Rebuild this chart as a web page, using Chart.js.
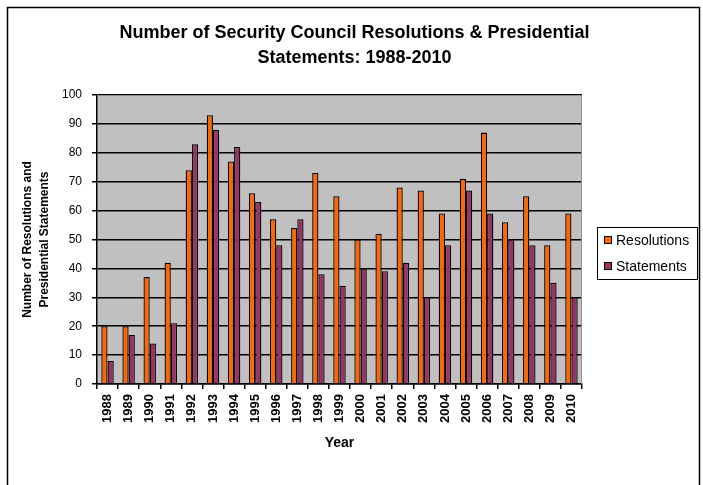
<!DOCTYPE html>
<html>
<head>
<meta charset="utf-8">
<script src="https://cdn.jsdelivr.net/npm/chart.js@4.4.0/dist/chart.umd.min.js"></script>
<style>
  html, body { margin: 0; padding: 0; background: #fff; }
  #wrap { width: 703px; height: 485px; }
</style>
</head>
<body>
<div id="wrap"><canvas id="scChart" width="703" height="485"></canvas></div>
<script>
// données
const years = ['1988', '1989', '1990', '1991', '1992', '1993', '1994', '1995', '1996', '1997', '1998', '1999',
               '2000', '2001', '2002', '2003', '2004', '2005', '2006', '2007', '2008', '2009', '2010'];
const resolutions = [20, 20, 37, 42, 74, 93, 77, 66, 57, 54, 73, 65, 50, 52, 68, 67, 59, 71, 87, 56, 65, 48, 59];
const statements = [8, 17, 14, 21, 83, 88, 82, 63, 48, 57, 38, 34, 40, 39, 42, 30, 48, 67, 59, 50, 48, 35, 30];
const titleLines = ['Number of Security Council Resolutions & Presidential', 'Statements: 1988-2010'];
const yTitleLines = ['Number of Resolutions and', 'Presidential Statements'];

Chart.defaults.font.family = '"Liberation Sans", Arial, sans-serif';
Chart.defaults.color = '#000';

// fond gris de la zone de tracé, cadre extérieur et légende encadrée
const plotBackground = {
    id: 'plotBackground',
    beforeDraw(chart) {
        const { ctx, chartArea } = chart;
        ctx.save();
        ctx.fillStyle = '#c0c0c0';
        ctx.fillRect(chartArea.left, chartArea.top, chartArea.right - chartArea.left, chartArea.bottom - chartArea.top);
        ctx.strokeStyle = '#000';
        ctx.lineWidth = 1.5;
        ctx.strokeRect(7.5, 7.5, 692, 500);
        ctx.restore();
    },
    afterDraw(chart) {
        const { ctx, chartArea } = chart;
        ctx.save();
        ctx.strokeStyle = '#909090';
        ctx.lineWidth = 1;
        ctx.beginPath();
        ctx.moveTo(chartArea.left, chartArea.top + 0.5);
        ctx.lineTo(chartArea.right - 0.5, chartArea.top + 0.5);
        ctx.lineTo(chartArea.right - 0.5, chartArea.bottom);
        ctx.stroke();

        // légende à droite
        const lx = chartArea.right + 15;
        const ly = 227;
        ctx.strokeStyle = '#000';
        ctx.lineWidth = 1;
        ctx.strokeRect(lx + 0.5, ly + 0.5, 100, 52);
        ctx.font = '14px "Liberation Sans", Arial, sans-serif';
        ctx.textBaseline = 'middle';
        ctx.textAlign = 'left';
        chart.data.datasets.forEach((ds, i) => {
            const cy = ly + 13 + i * 26;
            ctx.fillStyle = ds.backgroundColor;
            ctx.fillRect(lx + 7, cy - 4, 8, 8);
            ctx.strokeStyle = '#000';
            ctx.strokeRect(lx + 7.5, cy - 3.5, 7, 7);
            ctx.fillStyle = '#000';
            ctx.fillText(ds.label, lx + 19, cy + 1);
        });
        ctx.restore();
    }
};

new Chart(document.getElementById('scChart'), {
    type: 'bar',
    data: {
        labels: years,
        datasets: [
            {
                label: 'Resolutions',
                data: resolutions,
                backgroundColor: '#ff6600',
                borderColor: '#000',
                borderWidth: 1.3,
                borderSkipped: 'bottom',
                categoryPercentage: 0.59,
                barPercentage: 1.0
            },
            {
                label: 'Statements',
                data: statements,
                backgroundColor: '#993366',
                borderColor: '#000',
                borderWidth: 1.3,
                borderSkipped: 'bottom',
                categoryPercentage: 0.59,
                barPercentage: 1.0
            }
        ]
    },
    options: {
        responsive: false,
        animation: false,
        devicePixelRatio: 1,
        layout: { padding: { left: 12, top: 0, right: 6, bottom: 30 } },
        scales: {
            x: {
                grid: { display: true, drawOnChartArea: false, drawTicks: true, tickLength: 5, color: '#000', lineWidth: 1.5, offset: true },
                border: { color: '#000', width: 1.5 },
                ticks: { minRotation: 90, maxRotation: 90, padding: 5, font: { size: 13, weight: 'bold' }, color: '#000' },
                title: { display: true, text: 'Year', font: { size: 14, weight: 'bold' }, padding: { top: 0, bottom: 3 } },
                afterFit: scale => { scale.height = 71; }
            },
            y: {
                min: 0,
                max: 100,
                ticks: { stepSize: 10, padding: 10, font: { size: 12 }, color: '#000' },
                grid: { color: '#000', lineWidth: 1.5, tickLength: 5 },
                border: { color: '#000', width: 1.5 },
                title: { display: true, text: yTitleLines, font: { size: 12, weight: 'bold', lineHeight: 1.35 }, padding: { top: 8, bottom: 0 } },
                afterFit: scale => { scale.width = 85; }
            },
            // axe vide à droite : réserve la place de la légende
            legendSpace: {
                type: 'linear',
                position: 'right',
                display: true,
                grid: { display: false, drawTicks: false },
                border: { display: false },
                ticks: { display: false },
                afterFit: scale => { scale.width = 115; }
            }
        },
        plugins: {
            title: {
                display: true,
                text: titleLines,
                font: { size: 18, weight: 'bold', lineHeight: 1.39 },
                color: '#000',
                padding: { top: 21, bottom: 24 }
            },
            legend: { display: false },
            tooltip: { enabled: false }
        }
    },
    plugins: [plotBackground]
});
</script>
</body>
</html>
